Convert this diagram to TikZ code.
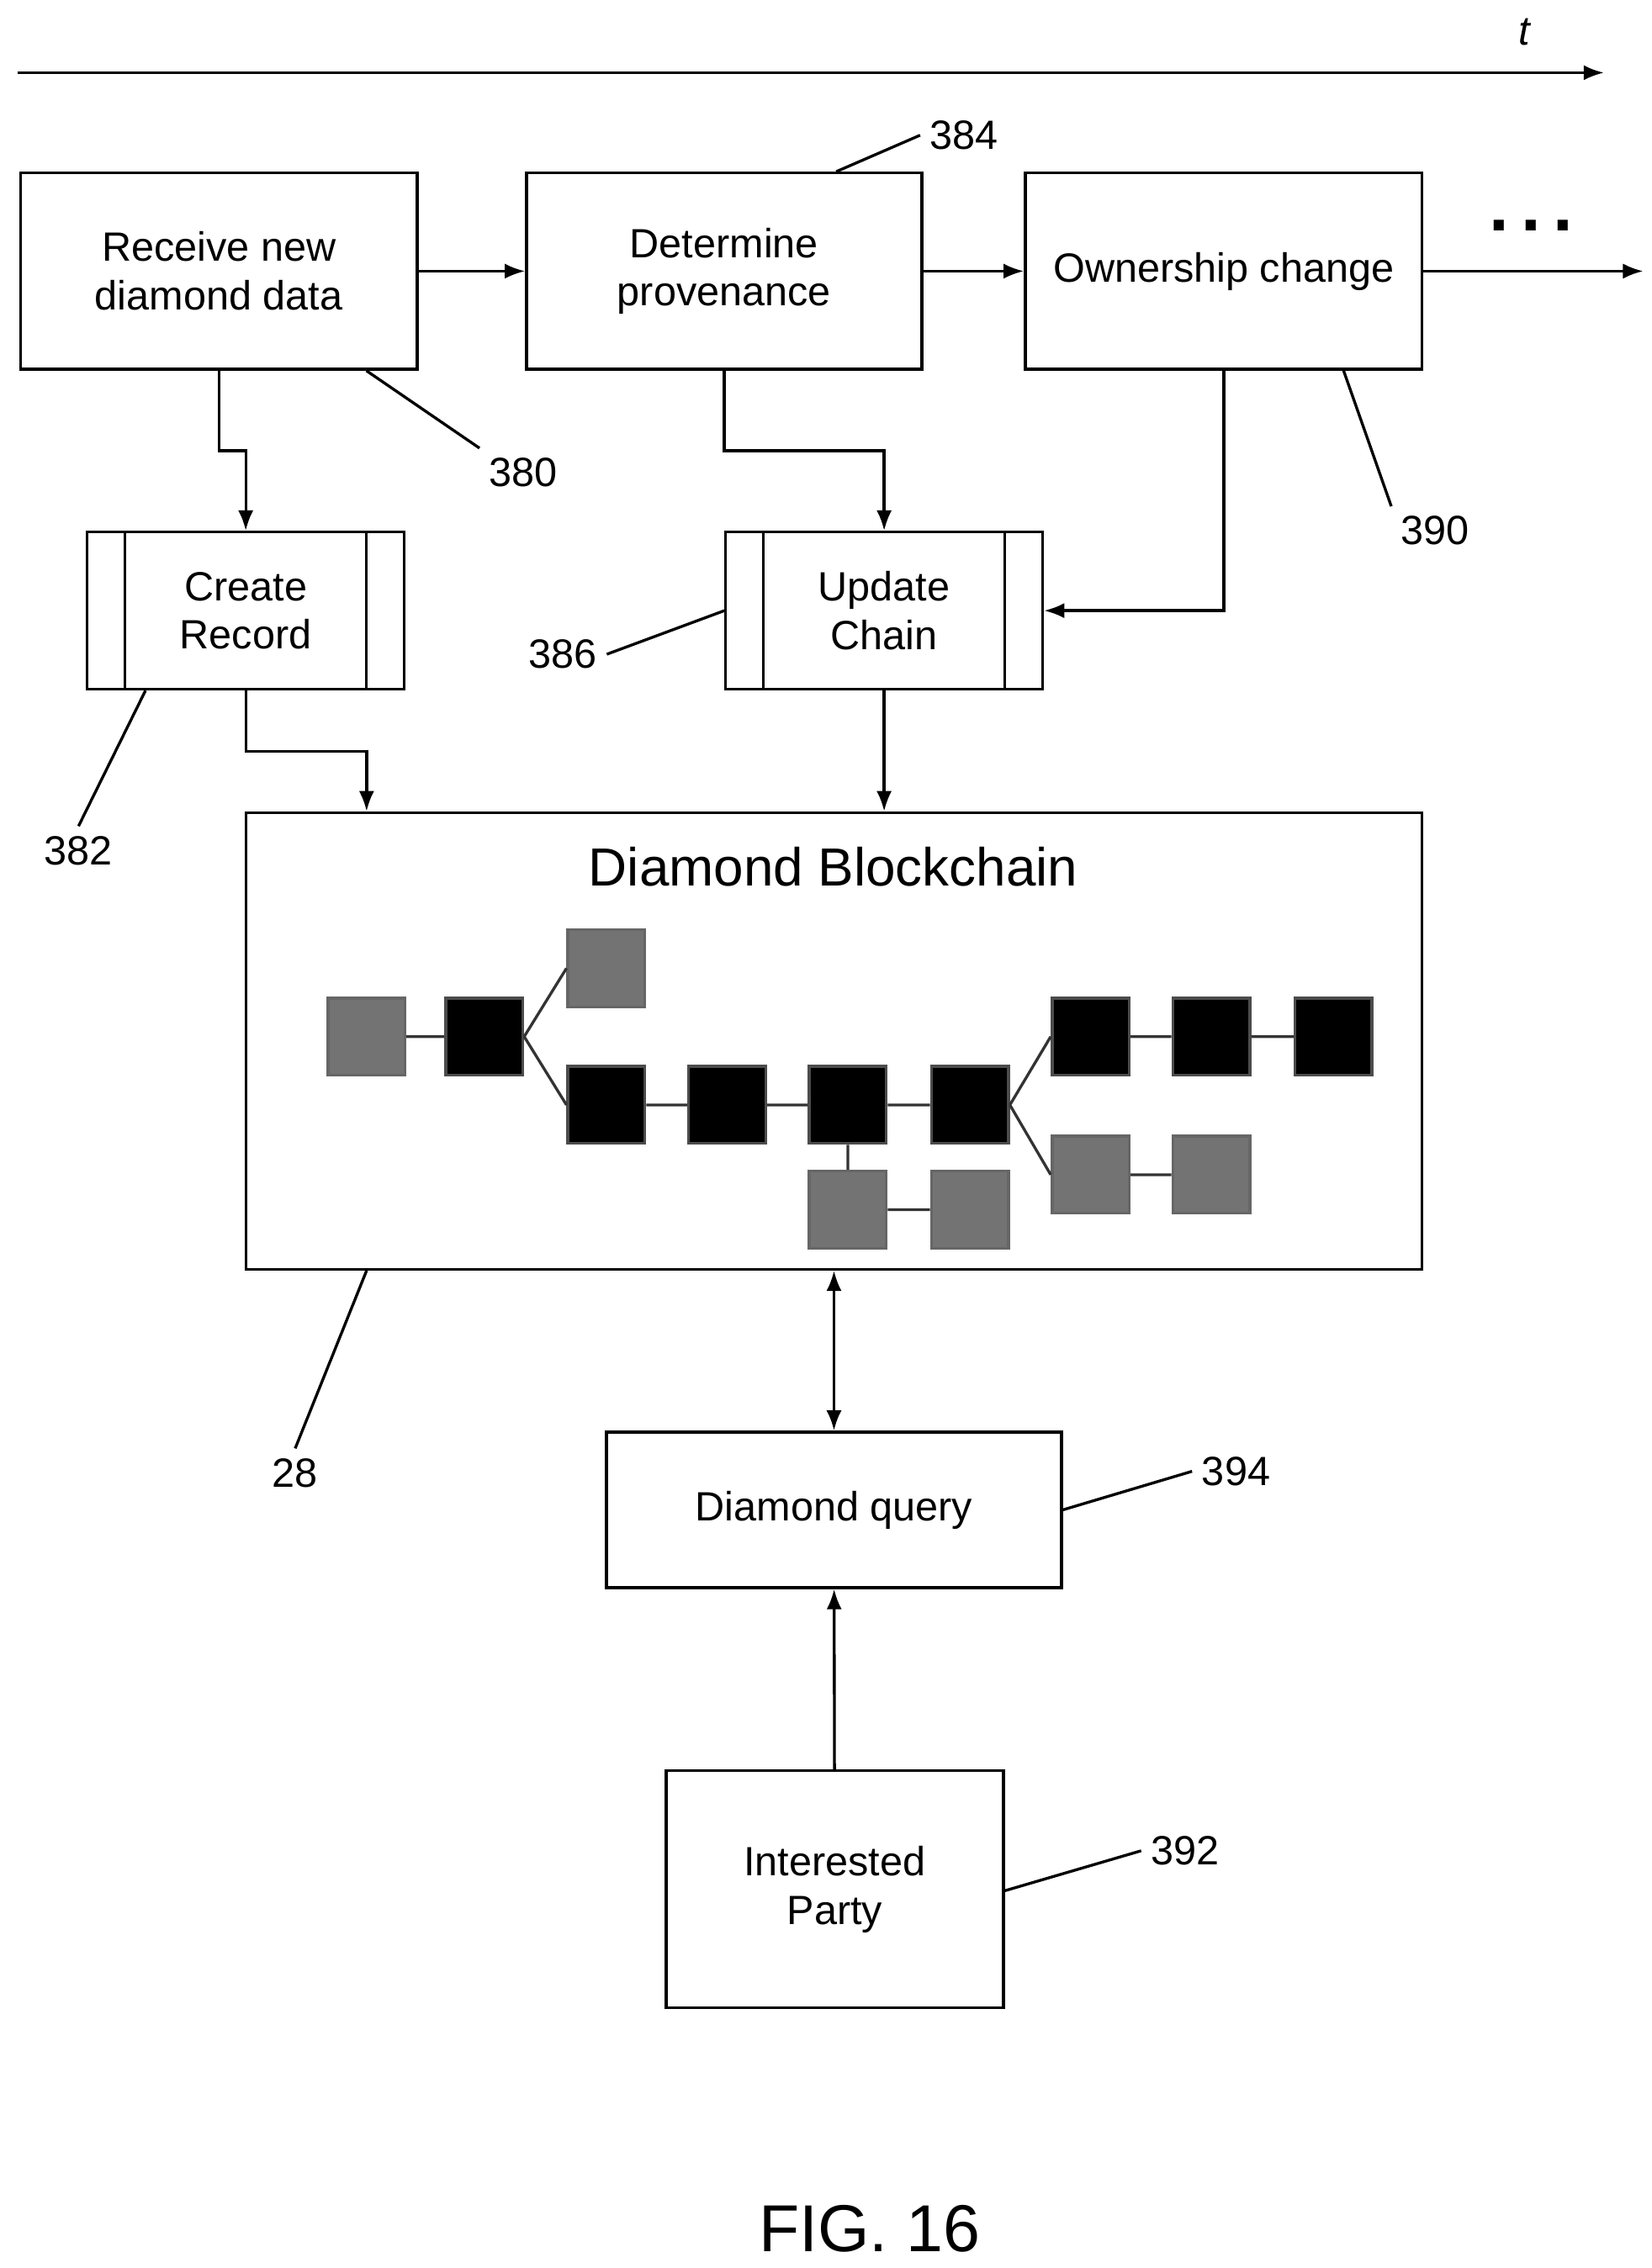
\documentclass[tikz,border=0pt]{standalone}
\usepackage{fontspec}
\setmainfont{Liberation Sans}
\usetikzlibrary{positioning,calc,arrows.meta}
\tikzset{>=Latex,
  box/.style={draw,line width=1.1pt,align=center,font=\fontsize{16}{19}\selectfont,inner sep=0pt},
  ref/.style={font=\fontsize{16}{19}\selectfont},
  blk/.style={draw=black!70,fill=black,minimum size=1.06cm,inner sep=0pt},
  gblk/.style={draw=black!60,fill=black!55,minimum size=1.06cm,inner sep=0pt},
  lnk/.style={line width=1.1pt,black!80}}
\def\predef#1{\draw[line width=1.1pt] ([xshift=.54cm]#1.north west) -- ([xshift=.54cm]#1.south west)
  ([xshift=-.54cm]#1.north east) -- ([xshift=-.54cm]#1.south east);}
\begin{document}
\begin{tikzpicture}[x=0.02cm,y=-0.02cm,line width=1.1pt]
\useasboundingbox (0,0) rectangle (1136,1560);
% time axis
\coordinate (t0) at (12,50);
\coordinate (t1) at (1103,50);
\draw[->] (t0) -- (t1);
\node[ref,font=\fontsize{16}{19}\selectfont\itshape] (tl) at (1048,22) {t};
% top row
\node[box,minimum width=5.46cm,minimum height=2.7cm] (rcv) at (150.5,186.5) {Receive new\\diamond data};
\node[box,minimum width=5.44cm,minimum height=2.7cm] (det) at (498,186.5) {Determine\\provenance};
\node[box,minimum width=5.46cm,minimum height=2.7cm] (own) at (841.5,186.5) {Ownership change};
\coordinate (out) at (1130,186.5);
\node[font=\fontsize{28}{30}\selectfont\bfseries] (dots) at (1053,155) {.\,.\,.};
\draw[->] (rcv) -- (det);
\draw[->] (det) -- (own);
\draw[->] (own) -- (out);
% second row
\node[box,minimum width=4.36cm,minimum height=2.16cm] (crt) at (169,420) {Create\\Record};
\node[box,minimum width=4.36cm,minimum height=2.16cm] (upd) at (608,420) {Update\\Chain};
\predef{crt}
\predef{upd}
\draw[->] (rcv.south) -- ++(0,55) -| (crt.north);
\draw[->] (det.south) -- ++(0,55) -| (upd.north);
\draw[->] (own.south) |- (upd.east);
% blockchain
\node[box,minimum width=16.18cm,minimum height=6.28cm] (bc) at (573.5,716) {};
\node[font=\fontsize{21}{25}\selectfont] (bct) at (573,596) {Diamond Blockchain};
\draw[->] (crt.south) -- ++(0,42) -| ([xshift=1.68cm]bc.north west);
\draw[->] (upd.south) -- (upd.south |- bc.north);
\node[gblk] (b1) at (252,713) {};
\node[blk] (b2) at (333,713) {};
\node[gblk] (b3) at (417,666) {};
\node[blk] (b4) at (417,760) {};
\node[blk] (b5) at (500,760) {};
\node[blk] (b6) at (583,760) {};
\node[blk] (b7) at (667,760) {};
\node[blk] (b8) at (750,713) {};
\node[blk] (b9) at (833,713) {};
\node[blk] (b10) at (917,713) {};
\node[gblk] (b11) at (750,808) {};
\node[gblk] (b12) at (833,808) {};
\node[gblk] (b13) at (583,832) {};
\node[gblk] (b14) at (667,832) {};
\draw[lnk] (b1) -- (b2) (b2.east) -- (b3.west) (b2.east) -- (b4.west)
  (b4) -- (b5) -- (b6) -- (b7) (b7.east) -- (b8.west) (b7.east) -- (b11.west)
  (b8) -- (b9) -- (b10) (b11) -- (b12) (b6) -- (b13) -- (b14);
% query
\node[box,minimum width=6.26cm,minimum height=2.14cm] (qry) at (573.5,1038.5) {Diamond query};
\node[box,minimum width=4.64cm,minimum height=3.26cm] (pty) at (574,1299.5) {Interested\\Party};
\draw[<->] (qry.north |- bc.south) -- (qry.north);
\draw[->] (pty) -- (qry);
% reference numerals
\node[ref] (n384) at (663,93) {384};
\node[ref] (n380) at (360,325) {380};
\node[ref] (n390) at (987,365) {390};
\node[ref] (n382) at (54,585) {382};
\node[ref] (n386) at (387,450) {386};
\node[ref] (n28) at (203,1013) {28};
\node[ref] (n394) at (850,1012) {394};
\node[ref] (n392) at (815,1273) {392};
\draw ([xshift=4.28cm]det.north west) -- (n384.west);
\draw ([xshift=-0.72cm]rcv.south east) -- (n380.north west);
\draw ([xshift=-1.1cm]own.south east) -- (n390.north west);
\draw ([xshift=0.82cm]crt.south west) -- (n382.north);
\draw ([yshift=-1.1cm]upd.north west) -- (n386.east);
\draw ([xshift=1.68cm]bc.south west) -- (n28.north);
\draw (qry.east) -- (n394.west);
\draw ([yshift=-0.02cm]pty.east) -- (n392.west);
\node[font=\fontsize{26}{30}\selectfont] (fig) at (598,1533) {FIG. 16};
\end{tikzpicture}
\end{document}
